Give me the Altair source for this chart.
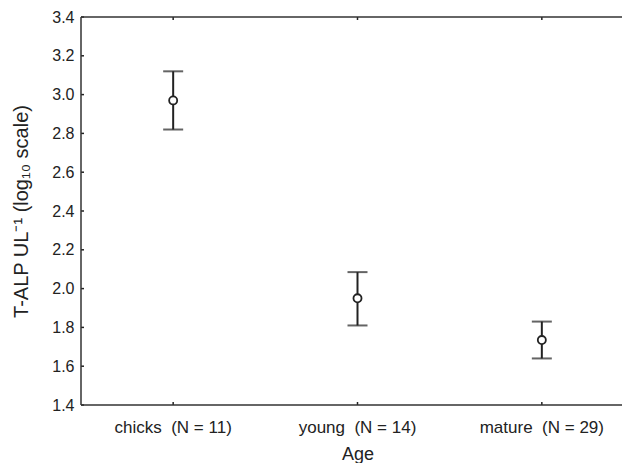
import altair as alt
import pandas as pd

categories = ["chicks\u00a0\u00a0(N = 11)", "young\u00a0\u00a0(N = 14)", "mature\u00a0\u00a0(N = 29)"]
means = [2.97, 1.95, 1.735]
upper = [3.12, 2.085, 1.83]
lower = [2.82, 1.81, 1.64]
y_ticks = [1.4, 1.6, 1.8, 2.0, 2.2, 2.4, 2.6, 2.8, 3.0, 3.2, 3.4]

df = pd.DataFrame({"Age": categories, "mean": means, "upper": upper, "lower": lower})
ticks_df = pd.DataFrame({"v": y_ticks})
one = pd.DataFrame({"k": [0]})

W, H = 541, 388          # visible plot area (frame continues past the window edge)
XR = 553                 # full band range of the original panel
INK = "#222222"
FRAME = "#333333"
FONT = "Liberation Sans"

xscale = alt.Scale(type="band", domain=categories, range=[0, XR],
                   paddingInner=0, paddingOuter=0)
yscale = alt.Scale(domain=[1.4, 3.4], nice=False, zero=False)

x_axis = alt.Axis(title="Age", labelAngle=0, ticks=False, domain=False, grid=False,
                  labelAlign="center", labelPadding=14, labelFontSize=17,
                  titleFontSize=18, titlePadding=10, labelColor=INK, titleColor=INK,
                  labelFont=FONT, titleFont=FONT, titleFontWeight="normal")
y_axis = alt.Axis(title="T-ALP UL\u207b\u00b9 (log\u2081\u2080 scale)", values=y_ticks,
                  format=".1f", ticks=False, domain=False, grid=False,
                  labelPadding=7, labelFontSize=16, titleFontSize=20, titlePadding=20,
                  labelColor=INK, titleColor=INK, labelFont=FONT, titleFont=FONT,
                  titleFontWeight="normal", labelOverlap=False)


def X():
    return alt.X("Age:N", scale=xscale, sort=categories, axis=x_axis)


def Y(field):
    return alt.Y(field, scale=yscale, axis=y_axis)


base = alt.Chart(df)

rule = base.mark_rule(color=INK, strokeWidth=2).encode(x=X(), y=Y("lower:Q"), y2="upper:Q")
cap_hi = base.mark_tick(color=INK, size=20, thickness=2, orient="horizontal").encode(
    x=X(), y=Y("upper:Q"))
cap_lo = base.mark_tick(color=INK, size=20, thickness=2, orient="horizontal").encode(
    x=X(), y=Y("lower:Q"))
pts = base.mark_point(shape="circle", filled=True, fill="white", stroke=INK,
                      strokeWidth=1.8, size=65, opacity=1).encode(x=X(), y=Y("mean:Q"))

# inward tick marks on the frame
ytk = alt.Chart(ticks_df).mark_rule(color=INK, strokeWidth=1.5).encode(
    y=Y("v:Q"), x=alt.value(0), x2=alt.value(3))
xtk_bot = base.mark_rule(color=INK, strokeWidth=1.5).encode(
    x=X(), y=alt.value(H), y2=alt.value(H - 3))
xtk_top = base.mark_rule(color=INK, strokeWidth=1.5).encode(
    x=X(), y=alt.value(0), y2=alt.value(3))

# frame (left, top, bottom); right edge lies outside the window
fr = alt.Chart(one)
f_left = fr.mark_rule(color=FRAME, strokeWidth=1.5).encode(
    x=alt.value(0), y=alt.value(0), y2=alt.value(H))
f_top = fr.mark_rule(color=FRAME, strokeWidth=1.5).encode(
    y=alt.value(0), x=alt.value(0), x2=alt.value(W + 30))
f_bot = fr.mark_rule(color=FRAME, strokeWidth=1.5).encode(
    y=alt.value(H), x=alt.value(0), x2=alt.value(W + 30))

chart = alt.layer(rule, cap_hi, cap_lo, pts, ytk, xtk_bot, xtk_top,
                  f_left, f_top, f_bot).properties(
    width=W, height=H,
    background="white",
    autosize=alt.AutoSizeParams(type="none"),
    padding={"left": 73, "top": 9, "right": 0, "bottom": 58},
).configure_view(stroke=None)

chart.save("out.html", embed_options={"renderer": "svg", "actions": False})
